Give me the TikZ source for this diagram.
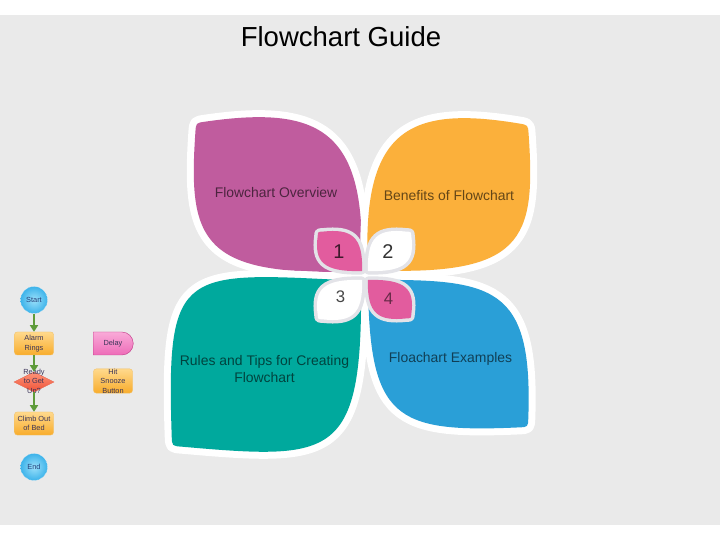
\documentclass[tikz,border=0pt]{standalone}
\usepackage{fontspec}
\setmainfont{Liberation Sans}
\usetikzlibrary{shapes.geometric, shapes.misc, arrows.meta}

\definecolor{bggrey}{HTML}{EAEAEA}
\definecolor{petalpurple}{HTML}{C05C9E}
\definecolor{petalorange}{HTML}{FBB03B}
\definecolor{petalteal}{HTML}{00A99D}
\definecolor{petalblue}{HTML}{2A9FD7}
\definecolor{smallpink}{HTML}{E25C9E}
\definecolor{smallrim}{HTML}{E3E3E8}
\definecolor{arrowgreen}{HTML}{5E9B3A}
\definecolor{fctext}{HTML}{3A3358}
\definecolor{termlight}{HTML}{9BE0FA}
\definecolor{termblue}{HTML}{3DB3EA}
\definecolor{termtext}{HTML}{24407A}
\definecolor{proctop}{HTML}{FFD98C}
\definecolor{procbot}{HTML}{F8AC2C}
\definecolor{procedge}{HTML}{F2C064}
\definecolor{decidetop}{HTML}{FF9478}
\definecolor{decidebot}{HTML}{EE5238}
\definecolor{decideedge}{HTML}{E8624C}
\definecolor{delaytop}{HTML}{F9AAD8}
\definecolor{delaybot}{HTML}{EE6CB8}
\definecolor{delayedge}{HTML}{C4408C}

\newcommand{\fcfont}{\fontsize{6.3}{8}\selectfont}
% one small petal, outer tip at (0,0), centre tip at (1,1)
\newcommand{\smallleaf}[1]{\path[smallpetal=#1] (0.13,0.015) .. controls (0.75,-0.06) and (1.03,0.12) .. (1,1) .. controls (0.12,1.03) and (-0.06,0.75) .. (0.015,0.13) .. controls (0.02,0.02) .. cycle;}

\begin{document}
\begin{tikzpicture}[x=0.03cm, y=-0.03cm,
  every node/.style={inner sep=0pt},
  bigpetal/.style={fill=#1, preaction={draw=white, line width=0.42cm, line join=round}},
  smallpetal/.style={fill=#1, preaction={draw=smallrim, line width=0.21cm, line join=round}},
  petallabel/.style={font=\fontsize{11.9}{14.5}\selectfont, text=black, text opacity=0.6, align=center},
  numlabel/.style={font=\fontsize{#1}{#1}\selectfont},
  fcterm/.style={circle, minimum size=0.81cm, inner color=termlight, outer color=termblue, draw=white, densely dotted, line width=0.3pt, font=\fcfont, text=termtext},
  fcproc/.style={rectangle, rounded corners=0.08cm, minimum width=1.17cm, minimum height=0.69cm, top color=proctop, bottom color=procbot, draw=procedge, line width=0.3pt, font=\fcfont, text=fctext, align=center},
  fcdecide/.style={diamond, aspect=2, minimum width=1.2cm, minimum height=0.6cm, top color=decidetop, bottom color=decidebot, draw=decideedge, line width=0.3pt},
  fcdelay/.style={rounded rectangle, rounded rectangle left arc=none, minimum width=1.2cm, minimum height=0.69cm, top color=delaytop, bottom color=delaybot, draw=delayedge, line width=0.4pt, font=\fcfont, text=fctext},
  fcarrow/.style={draw=arrowgreen, line width=0.07cm, -{Triangle[length=0.2cm, width=0.24cm]}}]

				% Background
				\fill[white] (0,0) rectangle (720,540);
				\fill[bggrey] (0,15) rectangle (720,525);
				\useasboundingbox (0,0) rectangle (720,540);

				\node[font=\fontsize{23.5}{28}\selectfont, anchor=base] (title) at (341,47) {Flowchart Guide};

				% Big petals
				\path[bigpetal=petalpurple] (205,121.7) .. controls (320,105) and (368,130) .. (361,271) .. controls (200,278) and (188,240) .. (195.4,132) .. controls (196,123) .. cycle;
				\path[bigpetal=petalorange] (519,123.5) .. controls (408,105) and (361,130) .. (368,270) .. controls (524,277) and (536,240) .. (528.6,134) .. controls (528,125) .. cycle;
				\path[bigpetal=petalteal] (171.7,436) .. controls (166,264) and (182,272) .. (361,281) .. controls (363,460) and (334,460) .. (182,446.7) .. controls (172,446) .. cycle;
				\path[bigpetal=petalblue] (368,280) .. controls (494,279) and (533,285) .. (528.3,418) .. controls (528,427) .. (519,427.4) .. controls (394,433) and (369,419) .. cycle;

				% Small petals
				\begin{scope}[shift={(317,231)}, xscale=45, yscale=40] \smallleaf{smallpink} \end{scope}
				\begin{scope}[shift={(412,231)}, xscale=-44, yscale=40] \smallleaf{white} \end{scope}
				\begin{scope}[shift={(317,320)}, xscale=45, yscale=-40] \smallleaf{white} \end{scope}
				\begin{scope}[shift={(412,319)}, xscale=-44, yscale=-39] \smallleaf{smallpink} \end{scope}

				% Labels
				\node[petallabel, anchor=base] (overview) at (276,198) {Flowchart Overview};
				\node[petallabel, anchor=base] (benefits) at (449,200.5) {Benefits of Flowchart};
				\node[petallabel] (rules) at (264.5,369.5) {Rules and Tips for Creating\\Flowchart};
				\node[petallabel, anchor=base] (examples) at (450.5,363) {Floachart Examples};
				\node[numlabel=17, text=black, text opacity=0.72] (n1) at (339,252) {1};
				\node[numlabel=17, text=black!80] (n2) at (388,252) {2};
				\node[numlabel=14.3, text=black!72] (n3) at (340.5,297) {3};
				\node[numlabel=14.3, text=black, text opacity=0.55] (n4) at (388.5,298.5) {4};

				% Flowchart nodes
				\node[fcterm] (start) at (34,300) {Start};
				\node[fcproc] (alarm) at (34,343.5) {Alarm\\Rings};
				\node[fcdecide, label={[font=\fcfont, text=fctext, align=center]center:Ready\\to Get\\Up?}] (ready) at (34,382) {};
				\node[fcproc] (climb) at (34,423.5) {Climb Out\\of Bed};
				\node[fcterm] (end) at (34,467) {End};
				\node[fcdelay] (delay) at (113,343.5) {Delay};
				\node[fcproc] (snooze) at (113,381) {Hit\\Snooze\\Button};

				% Flowchart edges
				\draw[fcarrow] (start) -- (alarm);
				\draw[fcarrow] (alarm) -- (ready);
				\draw[fcarrow] (ready) -- (climb);
			\end{tikzpicture}
\end{document}
